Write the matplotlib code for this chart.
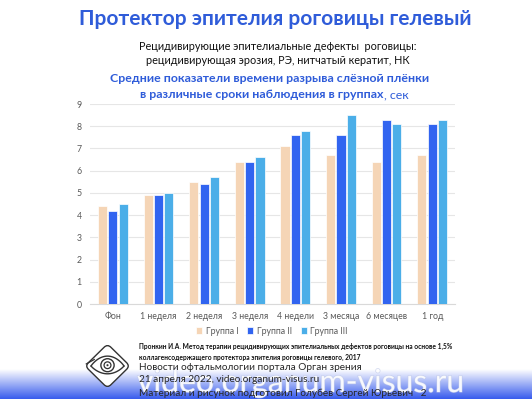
import numpy as np
import matplotlib
matplotlib.use("Agg")
import matplotlib.pyplot as plt
import matplotlib.patches as mpatches
import matplotlib.transforms as mtransforms
import matplotlib.patheffects as pe

plt.rcParams['font.family'] = ['Lato', 'DejaVu Sans']

periods = ["Фон", "1 неделя", "2 неделя", "3 неделя", "4 недели", "3 месяца", "6 месяцев", "1 год"]
group1 = [4.4, 4.9, 5.5, 6.4, 7.1, 6.7, 6.4, 6.7]
group2 = [4.2, 4.9, 5.4, 6.4, 7.6, 7.6, 8.3, 8.1]
group3 = [4.5, 5.0, 5.7, 6.6, 7.8, 8.5, 8.1, 8.3]
group_names = ["Группа I", "Группа II", "Группа III"]
group_colors = ["#F5D5B6", "#3164F0", "#4BAEE8"]

W, H = 532, 399
fig = plt.figure(figsize=(W / 100, H / 100), dpi=100)

def fx(px):
	return px / W

def fy(py):
	return 1 - py / H

# headings
blue = "#2F5CD9"
fig.text(fx(275), fy(19), "Протектор эпителия роговицы гелевый", ha="center", va="center",
	fontsize=15, fontweight="bold", color=blue)
fig.text(fx(278), fy(46), "Рецидивирующие эпителиальные дефекты  роговицы:", ha="center", va="center",
	fontsize=7.8, color="#111111")
fig.text(fx(278), fy(61), "рецидивирующая эрозия, РЭ, нитчатый кератит, НК", ha="center", va="center",
	fontsize=7.8, color="#111111")
fig.text(fx(270), fy(79), "Средние показатели времени разрыва слёзной плёнки", ha="center", va="center",
	fontsize=8.9, fontweight="bold", color=blue)
fig.text(fx(384), fy(95), "в различные сроки наблюдения в группах", ha="right", va="center",
	fontsize=8.9, fontweight="bold", color=blue)
fig.text(fx(384), fy(95), ", сек", ha="left", va="center", fontsize=8.9, color=blue)

# bar chart
ax = fig.add_axes([fx(90), fy(304), fx(455) - fx(90), fy(104) - fy(304)])
x = np.arange(len(periods))
bw = 0.2
step = 0.225
for i, (vals, name, col) in enumerate(zip([group1, group2, group3], group_names, group_colors)):
	ax.bar(x + (i - 1) * step, vals, bw, color=col, edgecolor="white", linewidth=0.5,
		label=name, zorder=3)

ax.set_xlim(-0.5, len(periods) - 0.5)
ax.set_ylim(0, 9)
ax.set_yticks(range(0, 10))
ax.set_xticks(x)
ax.set_xticklabels(periods)
ax.grid(axis="y", color="#E6E6E6", linewidth=0.8, zorder=0)
for s in ["top", "right", "left"]:
	ax.spines[s].set_visible(False)
ax.spines["bottom"].set_color("#D9D9D9")
ax.tick_params(axis="both", length=0, labelsize=6.3, colors="#595959", pad=6)
ax.tick_params(axis="y", pad=6)

fig.legend(*ax.get_legend_handles_labels(), loc="center", bbox_to_anchor=(fx(272), fy(331)),
	ncol=3, frameon=False, fontsize=6.3, handlelength=0.7, handleheight=0.7,
	handletextpad=0.4, columnspacing=1.0, labelcolor="#595959")

# reference
fig.text(fx(139), fy(346), "Пронкин И.А. Метод терапии рецидивирующих эпителиальных дефектов роговицы на основе 1,5%",
	ha="left", va="center", fontsize=4.8, fontweight="bold", color="#111111")
fig.text(fx(139), fy(357), "коллагенсодержащего протектора эпителия роговицы гелевого, 2017",
	ha="left", va="center", fontsize=4.8, fontweight="bold", color="#111111")

# bottom band with gradient
band = fig.add_axes([0, 0, 1, 30 / H], zorder=1)
grad = np.linspace(0, 1, 64)[:, None]
c_top = np.array([1.0, 1.0, 1.0])
c_bot = np.array([0.22, 0.36, 0.93])
img = c_top[None, None, :] * (1 - grad[..., None]) + c_bot[None, None, :] * grad[..., None]
img = np.repeat(img, 4, axis=1)
band.imshow(img, aspect="auto", extent=[0, 1, 0, 1], interpolation="bilinear")
band.axis("off")

wm = fig.text(fx(137), fy(392), "video.organum-visus.ru", ha="left", va="baseline",
	fontsize=23, color="white", alpha=0.75, zorder=2)
wm.set_path_effects([pe.withStroke(linewidth=0.8, foreground="#BFC8E8")])

for py, txt in [(367, "Новости офтальмологии портала Орган зрения"),
		(380, "21 апреля 2022, video.organum-visus.ru"),
		(393, "Материал и рисунок подготовил Голубев Сергей Юрьевич   2")]:
	fig.text(fx(139), fy(py), txt, ha="left", va="center", fontsize=7.2, color="#262626", zorder=3)

# logo
lg = fig.add_axes([fx(81), fy(392), fx(134) - fx(81), fy(340) - fy(392)], zorder=2)
lg.set_xlim(-1, 1)
lg.set_ylim(-1, 1)
lg.axis("off")
box = mpatches.FancyBboxPatch((-0.6, -0.6), 1.2, 1.2, boxstyle="round,pad=0,rounding_size=0.18",
	facecolor="white", edgecolor="#333333", linewidth=1.0)
box.set_transform(mtransforms.Affine2D().rotate_deg(45) + lg.transData)
lg.add_patch(box)
t = np.linspace(-0.62, 0.62, 60)
lg.plot(t, 0.38 * (1 - (t / 0.62) ** 2) ** 0.9, color="#333333", lw=1.0)
lg.plot(t, -0.3 * (1 - (t / 0.62) ** 2) ** 0.9, color="#333333", lw=1.0)
lg.add_patch(mpatches.Circle((0, 0.03), 0.25, facecolor="none", edgecolor="#333333", lw=1.0))
lg.add_patch(mpatches.Circle((0, 0.03), 0.13, facecolor="none", edgecolor="#333333", lw=0.9))
lg.add_patch(mpatches.Circle((0.0, 0.03), 0.04, facecolor="#333333"))
lg.plot([-0.8, -0.5], [0.08, 0.25], color="#333333", lw=0.9)

fig.savefig("out.png", dpi=100)
